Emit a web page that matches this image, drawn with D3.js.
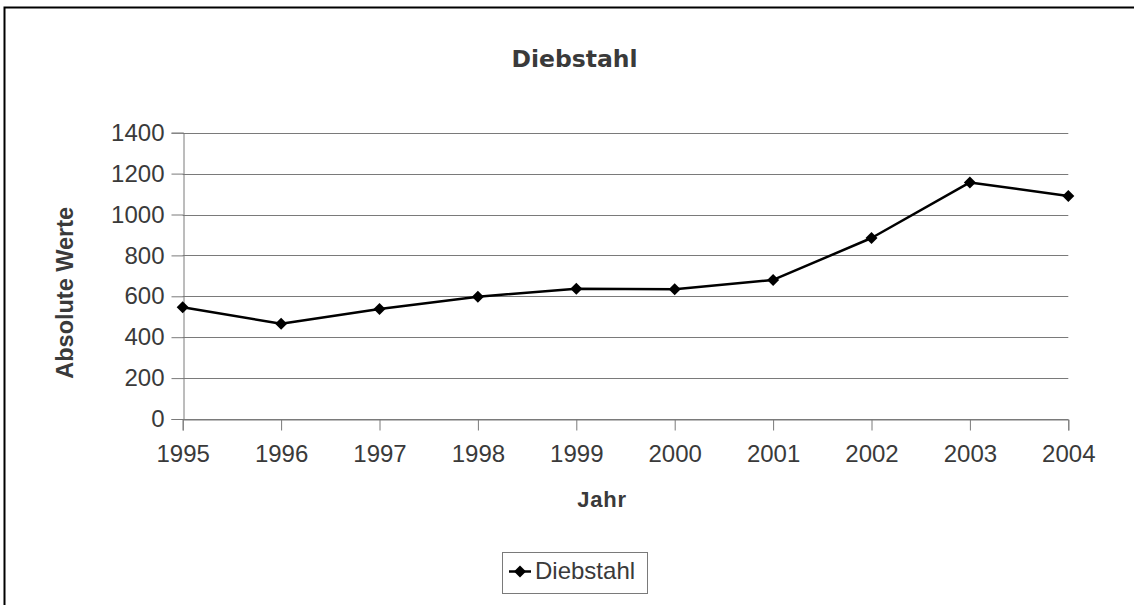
<!DOCTYPE html>
<html>
<head>
<meta charset="utf-8">
<script src="https://cdn.jsdelivr.net/npm/d3@7"></script>
<style>
  html, body { margin: 0; padding: 0; background: #fff; overflow: hidden; }
  svg { display: block; }
  text { font-family: "Liberation Sans", Arial, sans-serif; }
</style>
</head>
<body>
<svg id="chart" width="1134" height="605"></svg>
<script>
// Reported thefts per year
const years = ["1995", "1996", "1997", "1998", "1999", "2000", "2001", "2002", "2003", "2004"];
const diebstahl = [546, 466, 538, 598, 637, 634, 680, 885, 1157, 1090];
const yTicks = [0, 200, 400, 600, 800, 1000, 1200, 1400];

const svg = d3.select("#chart");

// outer frame (runs past the right and bottom edges)
svg.append("rect")
  .attr("x", 4.5).attr("y", 7.5)
  .attr("width", 1200).attr("height", 700)
  .attr("fill", "none").attr("stroke", "#000").attr("stroke-width", 2);

const x = d3.scalePoint().domain(years).range([182.7, 1068.3]);
const y = d3.scaleLinear().domain([0, 1400]).range([419, 132.7]);

// horizontal gridlines
svg.append("g")
  .selectAll("line")
  .data(yTicks)
  .join("line")
  .attr("x1", x.range()[0]).attr("x2", x.range()[1])
  .attr("y1", d => Math.round(y(d)) + 0.5).attr("y2", d => Math.round(y(d)) + 0.5)
  .attr("stroke", "#7a7a7a").attr("stroke-width", 1);

// y axis
const yAxis = svg.append("g")
  .attr("transform", `translate(${Math.round(x.range()[0]) + 0.5},0)`)
  .call(d3.axisLeft(y).tickValues(yTicks).tickSize(12).tickPadding(7).tickFormat(d3.format("d")));
yAxis.select(".domain").attr("stroke", "#7a7a7a");
yAxis.selectAll(".tick line").attr("stroke", "#7a7a7a");
yAxis.selectAll(".tick text")
  .attr("fill", "#3a3a3a")
  .style("font-size", "24px")
  .style("font-family", "'Liberation Sans', Arial, sans-serif");

// x axis
const xAxis = svg.append("g")
  .attr("transform", `translate(0,${Math.round(y(0)) + 0.5})`)
  .call(d3.axisBottom(x).tickSize(11).tickPadding(14));
xAxis.select(".domain").attr("stroke", "#7a7a7a");
xAxis.selectAll(".tick line").attr("stroke", "#7a7a7a");
xAxis.selectAll(".tick text")
  .attr("fill", "#3a3a3a")
  .style("font-size", "24px")
  .style("font-family", "'Liberation Sans', Arial, sans-serif");

// data line
const pts = years.map((yr, i) => [x(yr), y(diebstahl[i])]);
svg.append("path")
  .attr("d", d3.line()(pts))
  .attr("fill", "none").attr("stroke", "#000").attr("stroke-width", 2.5)
  .attr("stroke-linejoin", "round");

const diamond = d3.symbol().type(d3.symbolSquare).size(72);
svg.append("g")
  .selectAll("path")
  .data(pts)
  .join("path")
  .attr("d", diamond)
  .attr("transform", d => `translate(${d[0]},${d[1]}) rotate(45)`)
  .attr("fill", "#000");

// title
svg.append("text")
  .attr("x", 574.5).attr("y", 67.3)
  .attr("text-anchor", "middle")
  .attr("fill", "#3a3a3a")
  .style("font-family", "'DejaVu Sans', sans-serif")
  .style("font-size", "23.5px").style("font-weight", "bold")
  .text("Diebstahl");

// axis titles
svg.append("text")
  .attr("x", 602).attr("y", 506.7)
  .attr("text-anchor", "middle")
  .attr("fill", "#3a3a3a")
  .style("font-size", "22px").style("font-weight", "bold")
  .style("letter-spacing", "0.8px")
  .text("Jahr");

svg.append("text")
  .attr("transform", "translate(73.3,292.8) rotate(-90)")
  .attr("text-anchor", "middle")
  .attr("fill", "#3a3a3a")
  .style("font-size", "23.5px").style("font-weight", "bold")
  .text("Absolute Werte");

// legend
const lg = svg.append("g");
lg.append("rect")
  .attr("x", 502.5).attr("y", 552.5).attr("width", 145).attr("height", 41)
  .attr("fill", "#fff").attr("stroke", "#7a7a7a").attr("stroke-width", 1);
lg.append("line")
  .attr("x1", 509).attr("x2", 531).attr("y1", 571.5).attr("y2", 571.5)
  .attr("stroke", "#000").attr("stroke-width", 2.5);
lg.append("path")
  .attr("d", diamond)
  .attr("transform", "translate(520,571.5) rotate(45)")
  .attr("fill", "#000");
lg.append("text")
  .attr("x", 535).attr("y", 579)
  .attr("fill", "#3a3a3a")
  .style("font-size", "24px")
  .text("Diebstahl");
</script>
</body>
</html>
